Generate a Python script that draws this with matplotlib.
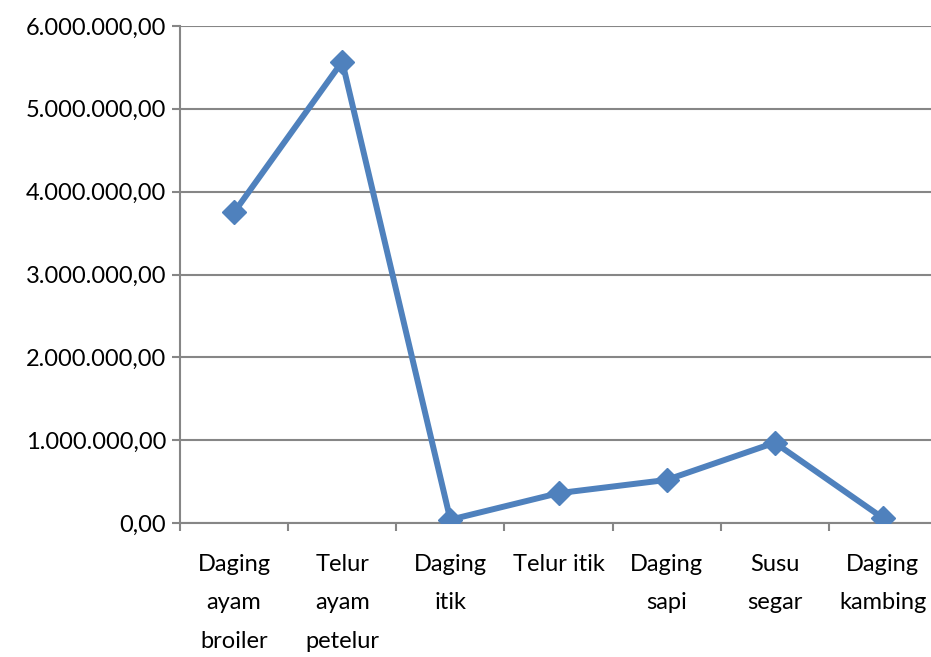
import matplotlib.pyplot as plt
from matplotlib.ticker import FuncFormatter, FixedLocator

categories = ['Daging\nayam\nbroiler', 'Telur\nayam\npetelur', 'Daging\nitik',
              'Telur itik', 'Daging\nsapi', 'Susu\nsegar', 'Daging\nkambing']
values = [3750000, 5570000, 40000, 360000, 520000, 970000, 60000]
yticks = [0, 1000000, 2000000, 3000000, 4000000, 5000000, 6000000]

plt.rcParams['font.family'] = ['Lato', 'DejaVu Sans']

fig = plt.figure(figsize=(9.31, 6.57), dpi=100)
ax = fig.add_axes([180 / 931, 134 / 657, 757 / 931, 497 / 657])

x = list(range(len(categories)))
ax.plot(x, values, color='#4F81BD', linewidth=4.3, marker='D', markersize=12,
        solid_joinstyle='round', zorder=3)

ax.set_xlim(-0.5, len(categories) - 0.5)
ax.set_ylim(0, 6000000)


def fmt(v, pos):
    s = '{:,.2f}'.format(v)
    return s.replace(',', 'X').replace('.', ',').replace('X', '.')


ax.yaxis.set_major_locator(FixedLocator(yticks))
ax.yaxis.set_major_formatter(FuncFormatter(fmt))
ax.yaxis.grid(True, color='#868686', linewidth=1.5)
ax.set_axisbelow(True)

# category boundaries get the tick marks, labels sit in between
ax.set_xticks([i - 0.5 for i in range(len(categories) + 1)])
ax.set_xticklabels([])
ax.set_xticks(x, minor=True)
ax.set_xticklabels(categories, minor=True, fontsize=17, linespacing=2.05, va='top')
ax.tick_params(axis='x', which='major', length=6, width=1.5, color='#868686', direction='out')
ax.tick_params(axis='x', which='minor', length=0, pad=22)
ax.tick_params(axis='y', length=6, width=1.5, color='#868686', labelsize=17, pad=4)

for side in ['top', 'right']:
    ax.spines[side].set_visible(False)
for side in ['left', 'bottom']:
    ax.spines[side].set_color('#868686')
    ax.spines[side].set_linewidth(1.5)

fig.savefig('out.png', dpi=100)
